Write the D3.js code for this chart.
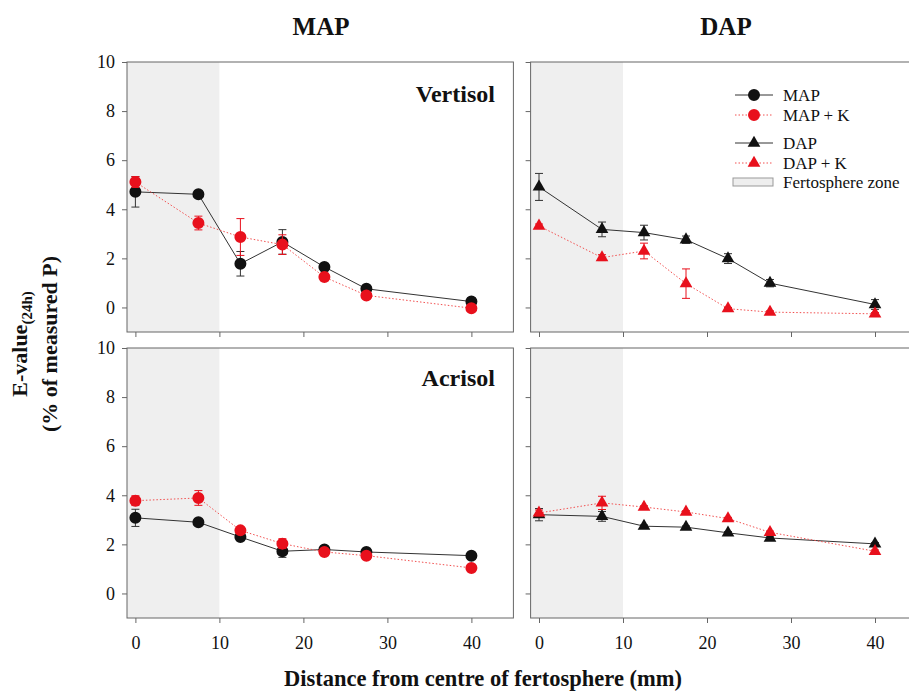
<!DOCTYPE html>
<html><head><meta charset="utf-8">
<script src="https://cdn.jsdelivr.net/npm/d3@7"></script>
<style>body{margin:0;background:#fff}svg{display:block}svg text{font-family:'Liberation Serif','Times New Roman',serif}</style>
</head><body><svg id="c" width="909" height="698"></svg>
<script>
const distances = [0, 7.5, 12.5, 17.5, 22.5, 27.5, 40];
const xTicks = [0, 10, 20, 30, 40];
const yTicks = [0, 2, 4, 6, 8, 10];
const fertosphereEdge = 10;
const fertilisers = ["MAP", "DAP"];
const soils = ["Vertisol", "Acrisol"];

const vertisolMAP     = [4.71, 4.61, 1.78, 2.67, 1.65, 0.76, 0.24];
const vertisolMAPErr  = [0.62, 0.05, 0.50, 0.50, 0.08, 0.08, 0.15];
const vertisolMAPK    = [5.11, 3.44, 2.87, 2.56, 1.24, 0.49, -0.03];
const vertisolMAPKErr = [0.22, 0.28, 0.75, 0.40, 0.15, 0.08, 0.05];
const vertisolDAP     = [4.91, 3.18, 3.05, 2.76, 1.99, 0.99, 0.12];
const vertisolDAPErr  = [0.55, 0.30, 0.30, 0.15, 0.20, 0.15, 0.20];
const vertisolDAPK    = [3.32, 2.03, 2.30, 0.97, -0.05, -0.19, -0.26];
const vertisolDAPKErr = [0.08, 0.12, 0.32, 0.60, 0.05, 0.05, 0.05];
const acrisolMAP      = [3.08, 2.90, 2.30, 1.72, 1.79, 1.69, 1.54];
const acrisolMAPErr   = [0.35, 0.05, 0.12, 0.25, 0.05, 0.05, 0.05];
const acrisolMAPK     = [3.78, 3.89, 2.57, 2.03, 1.69, 1.54, 1.04];
const acrisolMAPKErr  = [0.20, 0.30, 0.08, 0.20, 0.05, 0.05, 0.05];
const acrisolDAP      = [3.21, 3.14, 2.74, 2.70, 2.47, 2.26, 2.02];
const acrisolDAPErr   = [0.25, 0.20, 0.05, 0.05, 0.05, 0.05, 0.05];
const acrisolDAPK     = [3.28, 3.69, 3.52, 3.32, 3.05, 2.49, 1.72];
const acrisolDAPKErr  = [0.12, 0.27, 0.05, 0.05, 0.05, 0.05, 0.05];

const legendLabels = ["MAP", "MAP + K", "DAP", "DAP + K", "Fertosphere zone"];

const panels = [
  {row:0,col:0,shape:"circle",soil:soils[0],series:[[vertisolMAP,vertisolMAPErr,false],[vertisolMAPK,vertisolMAPKErr,true]]},
  {row:0,col:1,shape:"triangle",soil:null,series:[[vertisolDAP,vertisolDAPErr,false],[vertisolDAPK,vertisolDAPKErr,true]]},
  {row:1,col:0,shape:"circle",soil:soils[1],series:[[acrisolMAP,acrisolMAPErr,false],[acrisolMAPK,acrisolMAPKErr,true]]},
  {row:1,col:1,shape:"triangle",soil:null,series:[[acrisolDAP,acrisolDAPErr,false],[acrisolDAPK,acrisolDAPKErr,true]]}
];

const svg = d3.select("#c");
const FONT = "'Liberation Serif','Times New Roman',serif";
const RED = "#e8101c", BLACK = "#111", FRAME = "#666";
const colX = [[127, 513.4], [530.6, 917]];
const rowY = [[332, 62], [618, 348]];
const soilBaseline = [102, 386];

panels.forEach(p => {
  const x = d3.scaleLinear().domain([-1, 45]).range(colX[p.col]);
  const y = d3.scaleLinear().domain([-1, 10]).range(rowY[p.row]);
  const g = svg.append("g");
  g.append("rect").attr("x", x(-1)).attr("y", y(10))
    .attr("width", x(fertosphereEdge) - x(-1)).attr("height", y(-1) - y(10))
    .attr("fill", "#efefef");
  g.append("rect").attr("x", x(-1)).attr("y", y(10))
    .attr("width", x(45) - x(-1)).attr("height", y(-1) - y(10))
    .attr("fill", "none").attr("stroke", FRAME).attr("stroke-width", 1);
  const ya = g.append("g").attr("transform", `translate(${x(-1)},0)`)
    .call(d3.axisLeft(y).tickValues(yTicks).tickSize(5).tickSizeOuter(0)
      .tickFormat(p.col === 0 ? d3.format("d") : () => ""));
  ya.attr("font-family", FONT).attr("font-size", 18);
  ya.select(".domain").remove();
  ya.selectAll("line").attr("stroke", FRAME);
  ya.selectAll("text").attr("font-family", FONT).attr("font-size", 18).attr("fill", "#111").attr("dx", -4);
  const xa = g.append("g").attr("transform", `translate(0,${y(-1)})`)
    .call(d3.axisBottom(x).tickValues(xTicks).tickSize(5).tickSizeOuter(0)
      .tickFormat(p.row === 1 ? d3.format("d") : () => ""));
  xa.attr("font-family", FONT).attr("font-size", 18);
  xa.select(".domain").remove();
  xa.selectAll("line").attr("stroke", FRAME);
  xa.selectAll("text").attr("font-family", FONT).attr("font-size", 18).attr("fill", "#111").attr("dy", "1.27em");

  p.series.forEach(([vals, errs, isK]) => {
    const col = isK ? RED : BLACK;
    const pts = distances.map((d, i) => ({x: d, y: vals[i], e: errs[i]}));
    g.append("path").datum(pts)
      .attr("d", d3.line().x(d => x(d.x)).y(d => y(d.y)))
      .attr("fill", "none")
      .attr("stroke", isK ? "#f25050" : "#333")
      .attr("stroke-width", 1)
      .attr("stroke-dasharray", isK ? "1.5,2" : null);
    const eb = g.append("g").attr("stroke", isK ? RED : "#333").attr("stroke-width", 1);
    pts.forEach(d => {
      eb.append("line").attr("x1", x(d.x)).attr("x2", x(d.x)).attr("y1", y(d.y - d.e)).attr("y2", y(d.y + d.e));
      eb.append("line").attr("x1", x(d.x) - 4).attr("x2", x(d.x) + 4).attr("y1", y(d.y - d.e)).attr("y2", y(d.y - d.e));
      eb.append("line").attr("x1", x(d.x) - 4).attr("x2", x(d.x) + 4).attr("y1", y(d.y + d.e)).attr("y2", y(d.y + d.e));
    });
    const sym = p.shape === "circle" ? d3.symbol(d3.symbolCircle, 113) : d3.symbol(d3.symbolTriangle, 70);
    g.selectAll(null).data(pts).enter().append("path")
      .attr("d", sym).attr("transform", d => `translate(${x(d.x)},${y(d.y)})`)
      .attr("fill", col);
  });

  if (p.soil) {
    g.append("text").attr("x", x(42.8)).attr("y", soilBaseline[p.row])
      .attr("text-anchor", "end").attr("font-family", FONT).attr("font-weight", "bold")
      .attr("font-size", 24).attr("fill", "#111").text(p.soil);
  }
});

fertilisers.forEach((f, i) => {
  svg.append("text").attr("x", i === 0 ? 321 : 726).attr("y", 35)
    .attr("text-anchor", "middle").attr("font-family", FONT).attr("font-weight", "bold")
    .attr("font-size", 25).attr("fill", "#111").text(f);
});

const lg = svg.append("g");
const legendY = [95, 115, 143, 163, 182];
const lx0 = 735, lx1 = 773, lxm = 754, ltx = 783;
legendLabels.forEach((lab, i) => {
  const yy = legendY[i];
  if (i < 4) {
    const isK = i % 2 === 1;
    lg.append("line").attr("x1", lx0).attr("x2", lx1).attr("y1", yy).attr("y2", yy)
      .attr("stroke", isK ? "#f25050" : "#333").attr("stroke-width", 1)
      .attr("stroke-dasharray", isK ? "1.5,2" : null);
    const sym = i < 2 ? d3.symbol(d3.symbolCircle, 113) : d3.symbol(d3.symbolTriangle, 70);
    lg.append("path").attr("d", sym).attr("transform", `translate(${lxm},${yy})`)
      .attr("fill", isK ? RED : BLACK);
  } else {
    lg.append("rect").attr("x", lx0 - 2).attr("y", yy - 4).attr("width", 40).attr("height", 8)
      .attr("fill", "#eee").attr("stroke", "#999").attr("stroke-width", 1);
  }
  lg.append("text").attr("x", ltx).attr("y", yy + 6).attr("font-family", FONT)
    .attr("font-size", 17).attr("fill", "#111").text(lab);
});

svg.append("text").attr("x", 483).attr("y", 686).attr("text-anchor", "middle")
  .attr("font-family", FONT).attr("font-weight", "bold").attr("font-size", 22.5).attr("fill", "#111")
  .text("Distance from centre of fertosphere (mm)");

const yt = svg.append("text").attr("transform", "translate(0,344) rotate(-90)")
  .attr("text-anchor", "middle").attr("font-family", FONT).attr("font-weight", "bold")
  .attr("font-size", 22).attr("fill", "#111");
const t1 = yt.append("tspan").attr("x", 0).attr("y", 27);
t1.append("tspan").text("E-value");
t1.append("tspan").attr("font-size", 15).attr("dy", 5).text("(24h)");
yt.append("tspan").attr("x", 0).attr("y", 57).text("(% of measured P)");
</script></body></html>
